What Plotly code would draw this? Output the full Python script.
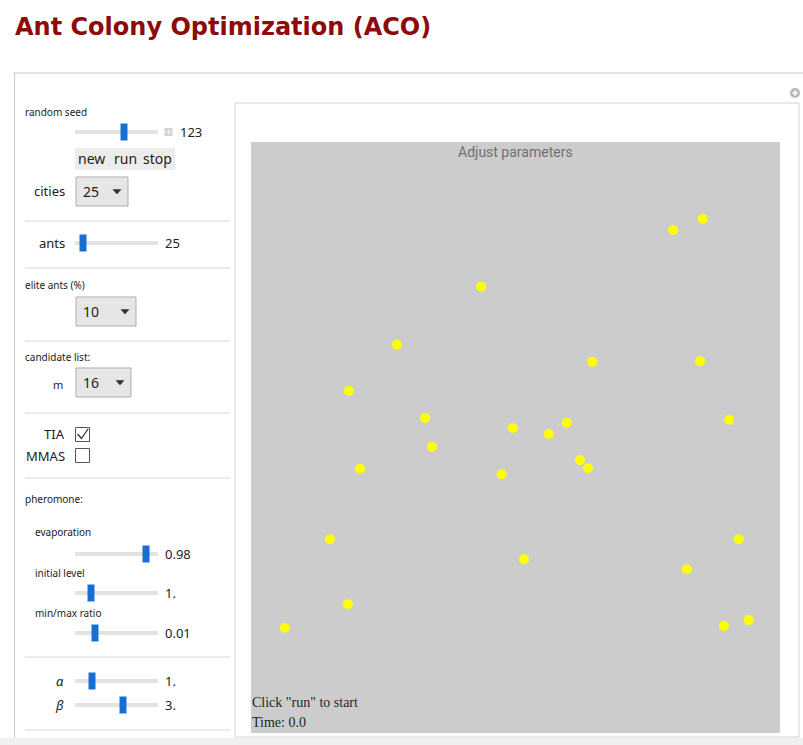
import plotly.graph_objects as go

# ---- data: city coordinates (unit square) ----
city_x = [0.798, 0.854, 0.435, 0.276, 0.645, 0.849, 0.185, 0.329, 0.495, 0.563,
          0.597, 0.904, 0.342, 0.622, 0.637, 0.206, 0.474, 0.149, 0.516, 0.922,
          0.824, 0.183, 0.064, 0.894, 0.941]
city_y = [0.851, 0.870, 0.755, 0.657, 0.628, 0.629, 0.579, 0.533, 0.516, 0.506,
          0.525, 0.530, 0.484, 0.462, 0.448, 0.447, 0.438, 0.328, 0.294, 0.328,
          0.277, 0.218, 0.178, 0.181, 0.191]

title_text = "Ant Colony Optimization (ACO)"
plot_title = "Adjust parameters"
status_lines = ['Click "run" to start', "Time: 0.0"]

W, H = 803, 745


def X(p):
    return p / W


def Y(p):
    return 1 - p / H


shapes = []
ann = []


def rect(x0, y0, x1, y1, fill="rgba(0,0,0,0)", line=None, lw=1):
    shapes.append(dict(type="rect", xref="paper", yref="paper",
                       x0=X(x0), x1=X(x1), y0=Y(y0), y1=Y(y1),
                       fillcolor=fill,
                       line=dict(color=line or "rgba(0,0,0,0)", width=lw if line else 0)))


def hline(x0, x1, y, color="#d6d6d6", lw=1):
    shapes.append(dict(type="line", xref="paper", yref="paper",
                       x0=X(x0), x1=X(x1), y0=Y(y), y1=Y(y),
                       line=dict(color=color, width=lw)))


def vline(x, y0, y1, color="#d0d0d0", lw=1):
    shapes.append(dict(type="line", xref="paper", yref="paper",
                       x0=X(x), x1=X(x), y0=Y(y0), y1=Y(y1),
                       line=dict(color=color, width=lw)))


def path(pts, color="#444", lw=1.2, fill=None, closed=False):
    d = "M " + " L ".join(f"{X(a):.5f},{Y(b):.5f}" for a, b in pts)
    if closed:
        d += " Z"
    shapes.append(dict(type="path", xref="paper", yref="paper", path=d,
                       fillcolor=fill or "rgba(0,0,0,0)",
                       line=dict(color=color, width=lw)))


def text(t, x, y, size=13, color="#222", anchor="left", family="Noto Sans", **kw):
    # compensate for annotation padding
    dx = -2 if anchor == "left" else (2 if anchor == "right" else 0)
    ann.append(dict(text=t, x=X(x + dx), y=Y(y), xref="paper", yref="paper",
                    xanchor=anchor, yanchor="middle", showarrow=False,
                    font=dict(size=size, color=color, family=family), **kw))


def slider(y, thumb, value, vx=165):
    rect(75, y - 2, 158, y + 2, fill="#e2e2e2")
    rect(thumb - 3.5, y - 8.5, thumb + 3.5, y + 8.5, fill="#176fd3")
    text(value, vx, y, size=13)


def dropdown(x0, x1, y0, y1, value, arrow_x):
    rect(x0, y0, x1, y1, fill="#e6e6e6", line="#adadad")
    text(value, x0 + 7, (y0 + y1) / 2, size=14)
    cy = (y0 + y1) / 2
    path([(arrow_x - 4, cy - 2), (arrow_x + 4, cy - 2), (arrow_x, cy + 2.5)],
         color="#333", lw=0.5, fill="#333", closed=True)


# ---- frames ----
rect(0, 738, 803, 745, fill="#f0f0f0")
hline(14, 803, 73, color="#c8c8c8")
vline(14.5, 73, 738, color="#c8c8c8")
rect(235, 103, 799, 737, line="#d4d4d4")
# expand icon
shapes.append(dict(type="circle", xref="paper", yref="paper",
                   x0=X(790), x1=X(800), y0=Y(88), y1=Y(98),
                   fillcolor="#b8b8b8", line=dict(width=0)))
hline(792.3, 797.7, 93, color="white", lw=1.6)
vline(795, 90.3, 95.7, color="white", lw=1.6)

# separators
for sy in [221, 268, 341, 413, 478, 657, 730]:
    hline(25, 230, sy)

# ---- controls ----
text("random seed", 25, 112, size=10)
slider(132, 124, "123", vx=180)
rect(164.5, 128, 172.5, 136, fill="#d4d4d4")
hline(166, 171, 132, color="#f8f8f8")
vline(168.5, 129.5, 134.5, color="#f8f8f8")
rect(75, 148, 175, 170, fill="#ececec")
text("new", 91, 159, size=14, anchor="center")
text("run", 125.5, 159, size=14, anchor="center")
text("stop", 157, 159, size=14, anchor="center")
text("cities", 65, 191, size=13, anchor="right")
dropdown(76, 128, 177, 206, "25", 117)

text("ants", 65, 243, size=13, anchor="right")
slider(243, 83, "25")

text("elite ants (%)", 25, 285, size=10)
dropdown(76, 136, 297, 326, "10", 125)

text("candidate list:", 25, 357, size=10)
text("m", 63, 384, size=11, anchor="right")
dropdown(76, 131, 368, 397, "16", 120)

text("TIA", 65, 434, size=13, anchor="right")
rect(75.5, 427.5, 89.5, 441.5, line="#555")
path([(77.5, 434), (81.5, 438.5), (88, 429)], color="#333", lw=1.3)
text("MMAS", 65, 456, size=13, anchor="right")
rect(75.5, 448.5, 89.5, 462.5, line="#555")

text("pheromone:", 25, 499, size=10)
text("evaporation", 35, 532, size=10)
slider(554, 146, "0.98")
text("initial level", 35, 573, size=10)
slider(593, 91, "1.")
text("min/max ratio", 35, 613, size=10)
slider(633, 95, "0.01")

text("<i>α</i>", 64, 681, size=13, anchor="right")
slider(681, 92, "1.")
text("<i>β</i>", 64, 705, size=13, anchor="right")
slider(705, 123, "3.")

# ---- title and plot texts ----
text("<b>" + title_text + "</b>", 15, 27, size=24, color="#8e0a0a",
     family="DejaVu Sans")
text(plot_title, 515, 152, size=14, color="#707070", anchor="center",
     family="Roboto")
text(status_lines[0], 252, 702, size=14, color="#262626",
     family="Liberation Serif")
text(status_lines[1], 252, 722, size=14, color="#262626",
     family="Liberation Serif")

fig = go.Figure()
fig.add_trace(go.Scatter(x=city_x, y=city_y, mode="markers",
                         marker=dict(size=10, color="#ffff00", line=dict(width=0)),
                         hoverinfo="skip", showlegend=False))

fig.update_layout(
    width=W, height=H,
    margin=dict(l=0, r=0, t=0, b=0),
    paper_bgcolor="white",
    plot_bgcolor="#cccccc",
    xaxis=dict(domain=[X(251), X(780)], range=[0, 1], visible=False, fixedrange=True),
    yaxis=dict(domain=[Y(733), Y(142)], range=[0, 1], visible=False, fixedrange=True),
    shapes=shapes,
    annotations=ann,
)

fig.write_html("out.html", config={"displayModeBar": False},
               post_script="document.body.style.margin='0';document.body.style.overflow='hidden';")
